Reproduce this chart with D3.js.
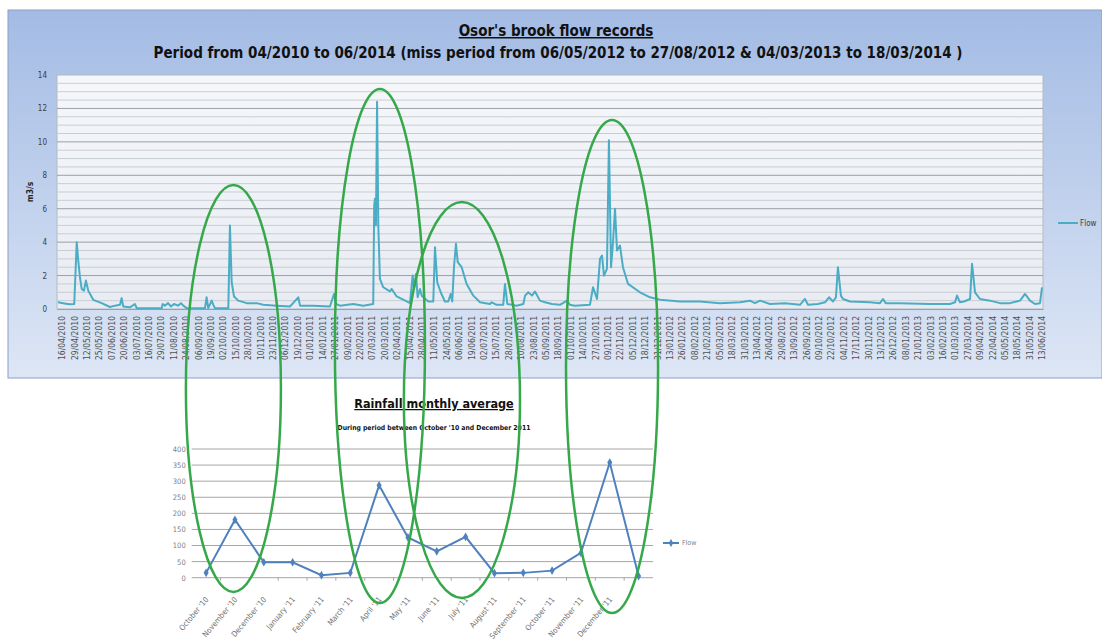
<!DOCTYPE html>
<html>
<head>
<meta charset="utf-8">
<script src="https://cdn.jsdelivr.net/npm/d3@7"></script>
<style>
  body { margin: 0; background: #fff; }
  text { font-family: "Liberation Sans Narrow", "DejaVu Sans Condensed", "Roboto", sans-serif; }
</style>
</head>
<body>
<div id="chart"></div>
<script>
// ---- flow chart data (category axis: one label every 13 records) ----
const flowLabels = [
  "16/04/2010","29/04/2010","12/05/2010","25/05/2010","07/06/2010","20/06/2010","03/07/2010","16/07/2010",
  "29/07/2010","11/08/2010","24/08/2010","06/09/2010","19/09/2010","02/10/2010","15/10/2010","28/10/2010",
  "10/11/2010","23/11/2010","06/12/2010","19/12/2010","01/01/2011","14/01/2011","27/01/2011","09/02/2011",
  "22/02/2011","07/03/2011","20/03/2011","02/04/2011","15/04/2011","28/04/2011","11/05/2011","24/05/2011",
  "06/06/2011","19/06/2011","02/07/2011","15/07/2011","28/07/2011","10/08/2011","23/08/2011","05/09/2011",
  "18/09/2011","01/10/2011","14/10/2011","27/10/2011","09/11/2011","22/11/2011","05/12/2011","18/12/2011",
  "31/12/2011","13/01/2012","26/01/2012","08/02/2012","21/02/2012","05/03/2012","18/03/2012","31/03/2012",
  "13/04/2012","26/04/2012","29/08/2012","13/09/2012","26/09/2012","09/10/2012","22/10/2012","04/11/2012",
  "17/11/2012","30/11/2012","13/12/2012","26/12/2012","08/01/2013","21/01/2013","03/02/2013","16/02/2013",
  "01/03/2013","27/03/2014","09/04/2014","22/04/2014","05/05/2014","18/05/2014","31/05/2014","13/06/2014"
];

// position of each reading, in label steps (0 = first label)
const flowPos = [
  -0.32, 0.30, 0.64, 0.99, 1.19, 1.30, 1.45, 1.59, 1.77, 1.93, 2.12, 2.52, 3.20, 3.87, 4.27, 4.68, 4.81, 4.94,
  5.48, 5.88, 6.02, 8.04, 8.12, 8.30, 8.55, 8.79, 9.03, 9.35, 9.59, 9.78, 10.05, 11.53, 11.66, 11.79, 12.07,
  12.20, 12.33, 13.41, 13.54, 13.68, 13.87, 14.21, 14.89, 15.70, 16.23, 17.31, 18.38, 19.05, 19.19, 20.26,
  21.60, 21.93, 22.09, 22.41, 23.48, 24.29, 25.09, 25.17, 25.23, 25.31, 25.40, 25.50, 25.63, 25.90, 26.44,
  26.58, 26.98, 27.79, 28.05, 28.27, 28.38, 28.54, 28.67, 28.86, 29.00, 29.53, 29.93, 30.07, 30.25, 30.53,
  30.87, 31.14, 31.33, 31.46, 31.60, 31.76, 31.90, 32.22, 32.62, 33.16, 33.70, 34.50, 34.64, 35.04, 35.57,
  35.71, 35.90, 36.65, 37.19, 37.33, 37.59, 37.89, 38.13, 38.53, 38.94, 39.50, 40.14, 40.71, 40.95, 41.35,
  42.56, 42.81, 43.13, 43.37, 43.53, 43.69, 43.93, 44.09, 44.26, 44.42, 44.58, 44.74, 44.98, 45.22, 45.63,
  46.59, 47.40, 48.21, 49.82, 51.43, 53.04, 54.66, 55.46, 55.86, 56.27, 57.07, 58.28, 59.49, 59.89, 60.14,
  60.94, 61.51, 61.83, 62.15, 62.39, 62.55, 62.79, 62.96, 63.52, 65.13, 65.94, 66.18, 66.40, 67.55, 69.97,
  71.58, 71.99, 72.15, 72.39, 72.71, 73.20, 73.36, 73.60, 74.00, 74.81, 75.61, 76.42, 77.23, 77.63, 78.03,
  78.44, 78.84, 79.00
];
// flow in m3/s
const flowVal = [
  0.40, 0.32, 0.28, 0.30, 4.00, 3.00, 1.90, 1.20, 1.10, 1.70, 1.10, 0.55, 0.35, 0.12, 0.20, 0.25, 0.65, 0.15,
  0.10, 0.30, 0.05, 0.05, 0.30, 0.20, 0.35, 0.15, 0.30, 0.20, 0.35, 0.20, 0.05, 0.05, 0.70, 0.05, 0.50,
  0.25, 0.05, 0.05, 5.00, 1.60, 0.75, 0.50, 0.35, 0.35, 0.25, 0.20, 0.15, 0.70, 0.20, 0.20,
  0.15, 0.90, 0.30, 0.20, 0.30, 0.20, 0.30, 6.20, 6.60, 5.00, 12.40, 5.00, 1.80, 1.30, 1.05,
  1.20, 0.75, 0.45, 0.35, 2.00, 1.20, 2.10, 0.70, 1.20, 0.80, 0.45, 0.45, 3.70, 1.60, 1.00,
  0.45, 0.45, 0.90, 0.45, 2.50, 3.90, 2.80, 2.50, 1.50, 0.80, 0.40, 0.30, 0.40, 0.25, 0.25,
  1.50, 0.30, 0.20, 0.30, 0.80, 1.00, 0.80, 1.05, 0.50, 0.40, 0.30, 0.25, 0.50, 0.25, 0.20,
  0.25, 1.30, 0.60, 3.00, 3.20, 2.00, 2.40, 10.10, 2.50, 4.00, 6.00, 3.50, 3.80, 2.50, 1.50,
  1.00, 0.70, 0.55, 0.45, 0.45, 0.35, 0.40, 0.50, 0.35, 0.50, 0.30, 0.35, 0.25, 0.60, 0.25,
  0.30, 0.40, 0.70, 0.45, 0.70, 2.50, 0.80, 0.60, 0.45, 0.40, 0.35, 0.60, 0.35, 0.35, 0.30,
  0.30, 0.40, 0.80, 0.40, 0.45, 0.60, 2.70, 1.00, 0.60, 0.50, 0.35, 0.35, 0.50, 0.90, 0.50,
  0.30, 0.35, 1.30
];
const flowTicks = [0, 2, 4, 6, 8, 10, 12, 14];

// ---- rainfall chart data ----
const rainMonths = [
  "October '10", "November '10", "December '10", "January '11", "February '11", "March '11",
  "April '11", "May '11", "June '11", "July '11", "August '11", "September '11",
  "October '11", "November '11", "December '11", ""
];
const rainVal = [15, 180, 48, 48, 8, 15, 287, 125, 82, 127, 14, 15, 22, 77, 358, 5];
const rainTicks = [0, 50, 100, 150, 200, 250, 300, 350, 400];

// hand drawn green ellipses: centre/half width in flow label steps, top/bottom in page px
const highlights = [
  { pos: 13.82, half: 3.83, top: 185, bottom: 592 },
  { pos: 25.63, half: 3.63, top: 89, bottom: 603 },
  { pos: 32.24, half: 4.68, top: 202, bottom: 598 },
  { pos: 44.34, half: 3.71, top: 120, bottom: 613 }
];

const W = 1102, H = 642;
const svg = d3.select('#chart').append('svg')
  .attr('width', W).attr('height', H)
  .style('display', 'block');

const defs = svg.append('defs');
const panelGrad = defs.append('linearGradient').attr('id', 'panelGrad')
  .attr('x1', 0).attr('y1', 0).attr('x2', 0).attr('y2', 1);
panelGrad.append('stop').attr('offset', '0%').attr('stop-color', '#a3bbe4');
panelGrad.append('stop').attr('offset', '100%').attr('stop-color', '#dde6f5');
const plotGrad = defs.append('linearGradient').attr('id', 'plotGrad')
  .attr('x1', 0).attr('y1', 0).attr('x2', 0).attr('y2', 1);
plotGrad.append('stop').attr('offset', '0%').attr('stop-color', '#f5f7fa');
plotGrad.append('stop').attr('offset', '100%').attr('stop-color', '#e8ecf2');

// ================= flow chart =================
const flowBox = { left: 57, right: 1043, top: 75, bottom: 309 };

svg.append('rect')
  .attr('x', 8).attr('y', 10).attr('width', W - 8).attr('height', 368)
  .attr('fill', 'url(#panelGrad)')
  .attr('stroke', '#8c9fc4').attr('stroke-width', 1);

let xFlow = d3.scaleLinear().domain([-0.4, 79.08]).range([flowBox.left, flowBox.right]);
let yFlow = d3.scaleLinear().domain([0, 14]).range([flowBox.bottom, flowBox.top]);

svg.append('rect')
  .attr('x', flowBox.left).attr('y', flowBox.top)
  .attr('width', flowBox.right - flowBox.left).attr('height', flowBox.bottom - flowBox.top)
  .attr('fill', 'url(#plotGrad)')
  .attr('stroke', '#b4b9c2');

// minor grid every 0.5, major every 2
const grid = svg.append('g');
grid.selectAll('line.minor')
  .data(d3.range(0.5, 14, 0.5).filter(v => v % 2 !== 0))
  .join('line').attr('class', 'minor')
  .attr('x1', flowBox.left).attr('x2', flowBox.right)
  .attr('y1', d => yFlow(d)).attr('y2', d => yFlow(d))
  .attr('stroke', '#c9cdd3').attr('stroke-width', 1);
grid.selectAll('line.major')
  .data(flowTicks.slice(1, -1))
  .join('line').attr('class', 'major')
  .attr('x1', flowBox.left).attr('x2', flowBox.right)
  .attr('y1', d => yFlow(d)).attr('y2', d => yFlow(d))
  .attr('stroke', '#9a9fa7').attr('stroke-width', 1);

// y axis
const yAxisFlow = d3.axisLeft(yFlow).tickValues(flowTicks).tickSize(0).tickPadding(10);
svg.append('g')
  .attr('transform', `translate(${flowBox.left},0)`)
  .call(yAxisFlow)
  .call(g => g.select('.domain').remove())
  .call(g => g.selectAll('text').attr('fill', '#404040').style('font-size', '8px'));

svg.append('text')
  .attr('transform', `translate(33,${(flowBox.top + flowBox.bottom) / 2}) rotate(-90)`)
  .attr('text-anchor', 'middle')
  .style('font-size', '8.5px').style('font-weight', 'bold')
  .attr('fill', '#262626')
  .text('m3/s');

// x axis
const xAxisFlow = d3.axisBottom(xFlow)
  .tickValues(d3.range(flowLabels.length))
  .tickFormat(i => flowLabels[i])
  .tickSize(0).tickPadding(0);
svg.append('g')
  .attr('transform', `translate(0,${flowBox.bottom})`)
  .call(xAxisFlow)
  .call(g => g.select('.domain').attr('stroke', '#9a9fa7'))
  .call(g => g.selectAll('text')
    .attr('transform', 'rotate(-90)')
    .attr('text-anchor', 'end')
    .attr('x', -7).attr('y', 0).attr('dy', '0.32em')
    .attr('fill', '#505050')
    .style('font-size', '8.5px'));

// flow line
const flowData = flowPos.map((p, i) => ({ pos: p, val: flowVal[i] }));
const flowLine = d3.line()
  .x(d => xFlow(d.pos))
  .y(d => yFlow(d.val));
svg.append('path')
  .datum(flowData)
  .attr('d', flowLine)
  .attr('fill', 'none')
  .attr('stroke', '#4bacc6')
  .attr('stroke-width', 2)
  .attr('stroke-linejoin', 'round');

// legend
const flowLegend = svg.append('g').attr('transform', 'translate(1058,223)');
flowLegend.append('line').attr('x1', 0).attr('x2', 20).attr('y1', 0).attr('y2', 0)
  .attr('stroke', '#4bacc6').attr('stroke-width', 2);
flowLegend.append('text').attr('x', 22).attr('dy', '0.32em')
  .style('font-size', '8px').attr('fill', '#404040').text('Flow');

// titles
svg.append('text')
  .attr('x', 556).attr('y', 36).attr('text-anchor', 'middle')
  .style('font-size', '15px').style('font-weight', 'bold')
  .style('text-decoration', 'underline')
  .attr('fill', '#111')
  .text("Osor's brook flow records");
svg.append('text')
  .attr('x', 558).attr('y', 58).attr('text-anchor', 'middle')
  .style('font-size', '15px').style('font-weight', 'bold')
  .attr('fill', '#111')
  .text('Period from 04/2010 to 06/2014 (miss period from 06/05/2012 to 27/08/2012 & 04/03/2013 to 18/03/2014 )');

// ================= rainfall chart =================
const rainBox = { left: 191.7, right: 653, top: 449, bottom: 577.7 };
let xRain = d3.scaleBand().domain(d3.range(rainMonths.length)).range([rainBox.left, rainBox.right]);
let yRain = d3.scaleLinear().domain([0, 400]).range([rainBox.bottom, rainBox.top]);

svg.append('g').selectAll('line')
  .data(rainTicks)
  .join('line')
  .attr('x1', rainBox.left).attr('x2', rainBox.right)
  .attr('y1', d => yRain(d)).attr('y2', d => yRain(d))
  .attr('stroke', '#a6a6a6').attr('stroke-width', 1);

svg.append('g')
  .attr('transform', `translate(${rainBox.left},0)`)
  .call(d3.axisLeft(yRain).tickValues(rainTicks).tickSize(0).tickPadding(6))
  .call(g => g.select('.domain').remove())
  .call(g => g.selectAll('text').attr('fill', '#808080').style('font-size', '7.5px'));

// category tick marks between months
svg.append('g').selectAll('line')
  .data(d3.range(1, rainMonths.length))
  .join('line')
  .attr('x1', i => xRain(i)).attr('x2', i => xRain(i))
  .attr('y1', rainBox.bottom).attr('y2', rainBox.bottom + 3)
  .attr('stroke', '#a6a6a6');

svg.append('g').selectAll('text')
  .data(rainMonths)
  .join('text')
  .attr('transform', (d, i) => `translate(${xRain(i) + xRain.bandwidth() / 2 + 3},${rainBox.bottom + 22}) rotate(-50)`)
  .attr('text-anchor', 'end')
  .style('font-size', '7.8px')
  .attr('fill', '#707070')
  .text(d => d);

const rainData = rainVal.map((v, i) => ({ i: i, val: v }));
const rainLine = d3.line()
  .x(d => xRain(d.i) + xRain.bandwidth() / 2)
  .y(d => yRain(d.val));
svg.append('path')
  .datum(rainData)
  .attr('d', rainLine)
  .attr('fill', 'none')
  .attr('stroke', '#4f81bd')
  .attr('stroke-width', 2);
svg.append('g').selectAll('path')
  .data(rainData)
  .join('path')
  .attr('d', d3.symbol(d3.symbolDiamond, 22))
  .attr('transform', d => `translate(${xRain(d.i) + xRain.bandwidth() / 2},${yRain(d.val)})`)
  .attr('fill', '#4f81bd');

const rainLegend = svg.append('g').attr('transform', 'translate(663,543)');
rainLegend.append('line').attr('x1', 0).attr('x2', 16).attr('y1', 0).attr('y2', 0)
  .attr('stroke', '#4f81bd').attr('stroke-width', 2);
rainLegend.append('path').attr('d', d3.symbol(d3.symbolDiamond, 18))
  .attr('transform', 'translate(8,0)').attr('fill', '#4f81bd');
rainLegend.append('text').attr('x', 19).attr('dy', '0.32em')
  .style('font-size', '7px').attr('fill', '#808080').text('Flow');

svg.append('text')
  .attr('x', 434).attr('y', 408).attr('text-anchor', 'middle')
  .style('font-size', '12.5px').style('font-weight', 'bold')
  .style('text-decoration', 'underline')
  .attr('fill', '#111')
  .text('Rainfall monthly average');
svg.append('text')
  .attr('x', 434).attr('y', 430).attr('text-anchor', 'middle')
  .style('font-size', '6.8px').style('font-weight', 'bold')
  .attr('fill', '#111')
  .text("During period between October '10 and December 2011");

// ================= green highlight ellipses =================
svg.append('g').selectAll('ellipse')
  .data(highlights)
  .join('ellipse')
  .attr('cx', d => xFlow(d.pos))
  .attr('rx', d => xFlow(d.pos + d.half) - xFlow(d.pos))
  .attr('cy', d => (d.top + d.bottom) / 2)
  .attr('ry', d => (d.bottom - d.top) / 2)
  .attr('fill', 'none')
  .attr('stroke', '#35a84a')
  .attr('stroke-width', 2.5);
</script>
</body>
</html>
